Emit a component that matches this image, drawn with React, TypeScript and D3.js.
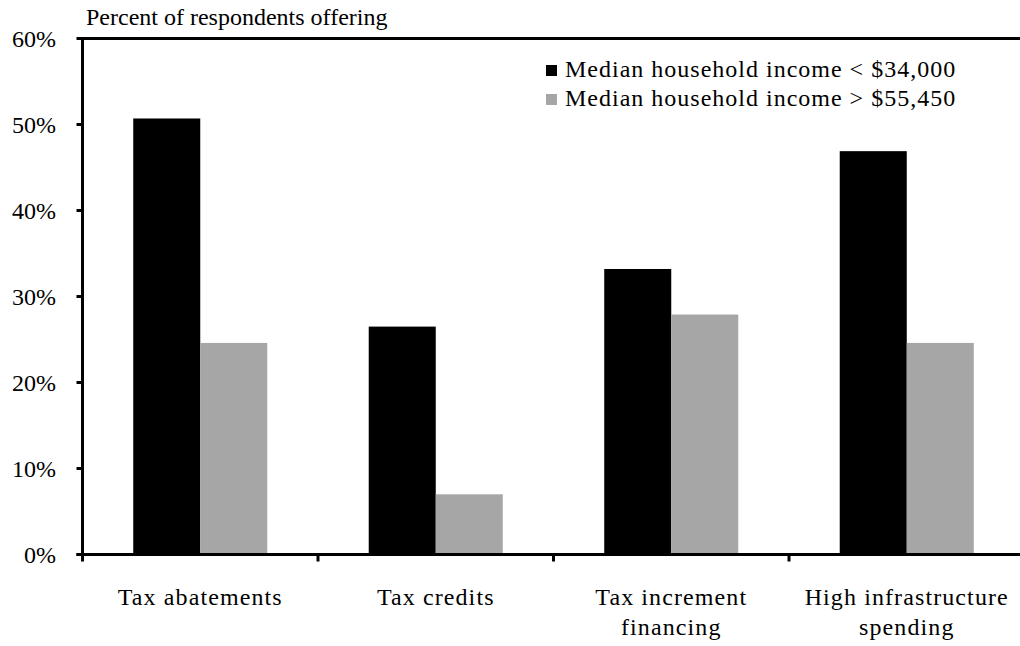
import React from "react";
import * as d3 from "d3";

const categories: string[][] = [
  ["Tax abatements"],
  ["Tax credits"],
  ["Tax increment", "financing"],
  ["High infrastructure", "spending"],
];
const seriesNames = [
  "Median household income < $34,000",
  "Median household income > $55,450",
];
const lowIncome = [50.7, 26.5, 33.2, 46.9];
const highIncome = [24.6, 7.0, 27.9, 24.6];
const yTicks = [0, 10, 20, 30, 40, 50, 60];
const colors = ["#000000", "#a6a6a6"];

const W = 1020;
const H = 646;
const left = 82.5;
const right = 1024.5;
const top = 38.5;
const bottom = 554.5;
const FONT = "'Liberation Serif', 'Times New Roman', serif";

export default function App() {
  const x0 = d3
    .scaleBand<number>()
    .domain(categories.map((_, i) => i))
    .range([left, right])
    .padding(0);
  const x1 = d3
    .scaleBand<number>()
    .domain([0, 1])
    .range([0, x0.bandwidth()])
    .paddingInner(0)
    .paddingOuter(0.757);
  const y = d3.scaleLinear().domain([0, 60]).range([bottom, top]);
  const data = [lowIncome, highIncome];

  return (
    <svg
      width={W}
      height={H}
      style={{ position: "absolute", left: 0, top: 0, background: "#fff" }}
      fontFamily={FONT}
    >
      <text x={86} y={25} fontSize={24} fill="#000">
        Percent of respondents offering
      </text>
      {data.map((vals, s) =>
        vals.map((v, i) => (
          <rect
            key={`${s}-${i}`}
            x={(x0(i) as number) + (x1(s) as number)}
            y={y(v)}
            width={x1.bandwidth()}
            height={y(0) - y(v)}
            fill={colors[s]}
          />
        ))
      )}
      {/* top border */}
      <line x1={left} x2={W} y1={y(60)} y2={y(60)} stroke="#000" strokeWidth={3} />
      {/* y axis */}
      <line x1={left} x2={left} y1={y(60) - 1.5} y2={y(0) + 1.5} stroke="#000" strokeWidth={3} />
      {yTicks.map((t) => (
        <g key={t}>
          <line x1={left - 6} x2={left} y1={y(t)} y2={y(t)} stroke="#000" strokeWidth={3} />
          <text x={56} y={y(t) + 8} fontSize={24} textAnchor="end" fill="#000">
            {t}%
          </text>
        </g>
      ))}
      {/* x axis */}
      <line x1={left - 6} x2={W} y1={y(0)} y2={y(0)} stroke="#000" strokeWidth={3} />
      {categories.map((_, i) => (
        <line
          key={i}
          x1={x0(i) as number}
          x2={x0(i) as number}
          y1={y(0)}
          y2={y(0) + 7}
          stroke="#000"
          strokeWidth={3}
        />
      ))}
      {categories.map((lines, i) => (
        <text
          key={i}
          x={(x0(i) as number) + x0.bandwidth() / 2}
          y={605}
          fontSize={24}
          letterSpacing={1.1}
          textAnchor="middle"
          fill="#000"
        >
          {lines.map((l, j) => (
            <tspan key={j} x={(x0(i) as number) + x0.bandwidth() / 2} dy={j === 0 ? 0 : 30}>
              {l}
            </tspan>
          ))}
        </text>
      ))}
      {/* legend */}
      {seriesNames.map((n, s) => (
        <g key={n}>
          <rect x={546} y={65 + s * 29} width={11} height={11} fill={colors[s]} />
          <text x={565} y={77 + s * 29} fontSize={24} letterSpacing={1} fill="#000">
            {n}
          </text>
        </g>
      ))}
    </svg>
  );
}
